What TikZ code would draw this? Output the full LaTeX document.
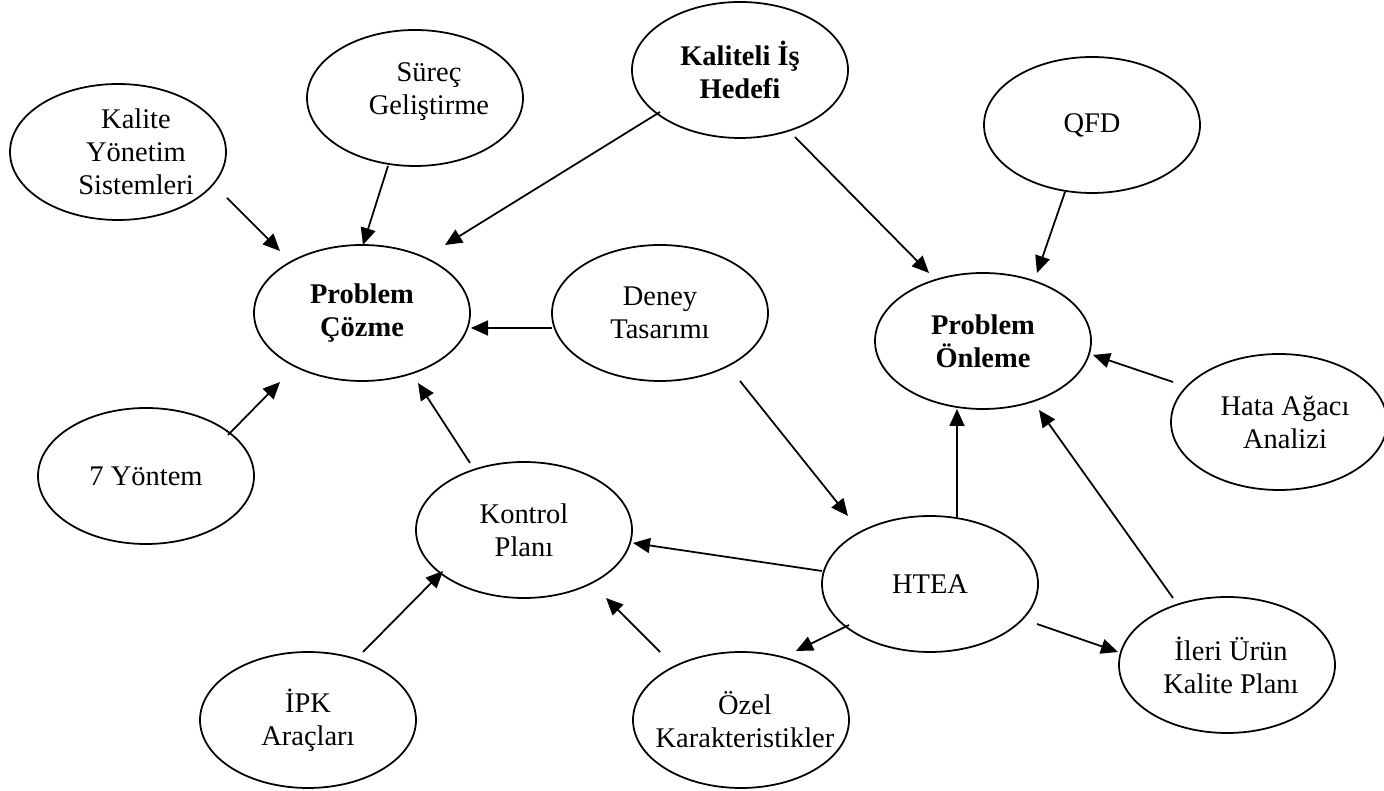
\documentclass[tikz,border=0pt]{standalone}
\usepackage{fontspec}
\setmainfont{Liberation Serif}
\usepackage{tikz}
\usetikzlibrary{calc,shapes.geometric,arrows.meta}

\begin{document}
\begin{tikzpicture}[
    blob/.style={ellipse, draw, line width=1pt, minimum width=4.32cm, minimum height=2.72cm, inner sep=0pt},
    every label/.style={align=center, font=\fontsize{16.2}{18.8}\selectfont},
    heavy/.style={font=\fontsize{16.2}{18.8}\selectfont\bfseries},
    arr/.style={line width=1pt, -{Triangle[length=0.34cm,width=0.3cm]}}
]
\useasboundingbox (0,0) rectangle (27.68,15.82);

% top row
\node[blob, label={[xshift=0.36cm]center:Kalite\\Yönetim\\Sistemleri}] (kys) at (2.36,12.78) {};
\node[blob, label={[xshift=0.28cm,yshift=0.12cm]center:Süreç\\Geliştirme}] (surec) at (8.30,13.86) {};
\node[blob, label={[heavy]center:Kaliteli İş\\Hedefi}] (hedef) at (14.80,14.42) {};
\node[blob, label={center:QFD}] (qfd) at (21.84,13.32) {};

% middle
\node[blob, label={[heavy]center:Problem\\Çözme}] (cozme) at (7.24,9.56) {};
\node[blob, label={center:Deney\\Tasarımı}] (deney) at (13.20,9.56) {};
\node[blob, label={[heavy]center:Problem\\Önleme}] (onleme) at (19.66,9.00) {};
\node[blob, label={[xshift=0.12cm]center:Hata Ağacı\\Analizi}] (hata) at (25.58,7.38) {};
\node[blob, label={center:7 Yöntem}] (yontem) at (2.92,6.30) {};
\node[blob, label={center:Kontrol\\Planı}] (kontrol) at (10.48,5.22) {};
\node[blob, label={center:HTEA}] (htea) at (18.60,4.14) {};

% bottom row
\node[blob, label={center:İPK\\Araçları}] (ipk) at (6.16,1.42) {};
\node[blob, label={[xshift=0.08cm]center:Özel\\Karakteristikler}] (ozel) at (14.82,1.42) {};
\node[blob, label={[xshift=0.08cm]center:İleri Ürün\\Kalite Planı}] (ileri) at (24.54,2.52) {};

% into problem cozme
\draw[arr] ($(kys)+(2.18,-0.92)$) -- ($(cozme)+(-1.64,1.24)$);
\draw[arr] ($(surec)+(-0.54,-1.36)$) -- ($(cozme)+(0.02,1.36)$);
\draw[arr] ($(hedef)+(-1.60,-0.84)$) -- ($(cozme)+(1.66,1.36)$);
\draw[arr] ($(deney)+(-2.16,-0.30)$) -- ($(cozme)+(2.18,-0.30)$);
\draw[arr] ($(yontem)+(1.64,0.82)$) -- ($(cozme)+(-1.64,-1.38)$);
\draw[arr] ($(kontrol)+(-1.08,1.34)$) -- ($(cozme)+(1.12,-1.40)$);

% into problem onleme
\draw[arr] ($(hedef)+(1.10,-1.34)$) -- ($(onleme)+(-1.08,1.36)$);
\draw[arr] ($(qfd)+(-0.54,-1.34)$) -- ($(onleme)+(1.08,1.36)$);
\draw[arr] ($(hata)+(-2.12,0.80)$) -- ($(onleme)+(2.20,-0.28)$);
\draw[arr] ($(ileri)+(-1.08,1.34)$) -- ($(onleme)+(1.12,-1.38)$);
\draw[arr] ($(htea)+(0.54,1.34)$) -- ($(onleme)+(-0.52,-1.36)$);

% the rest
\draw[arr] ($(deney)+(1.60,-1.36)$) -- ($(htea)+(-1.64,1.36)$);
\draw[arr] ($(htea)+(-2.16,0.26)$) -- ($(kontrol)+(2.18,-0.26)$);
\draw[arr] ($(htea)+(-1.62,-0.82)$) -- ($(ozel)+(1.10,1.38)$);
\draw[arr] ($(htea)+(2.14,-0.80)$) -- ($(ileri)+(-2.18,0.26)$);
\draw[arr] ($(ozel)+(-1.62,1.36)$) -- ($(kontrol)+(1.64,-1.36)$);
\draw[arr] ($(ipk)+(1.10,1.36)$) -- ($(kontrol)+(-1.62,-0.82)$);
\end{tikzpicture}
\end{document}
